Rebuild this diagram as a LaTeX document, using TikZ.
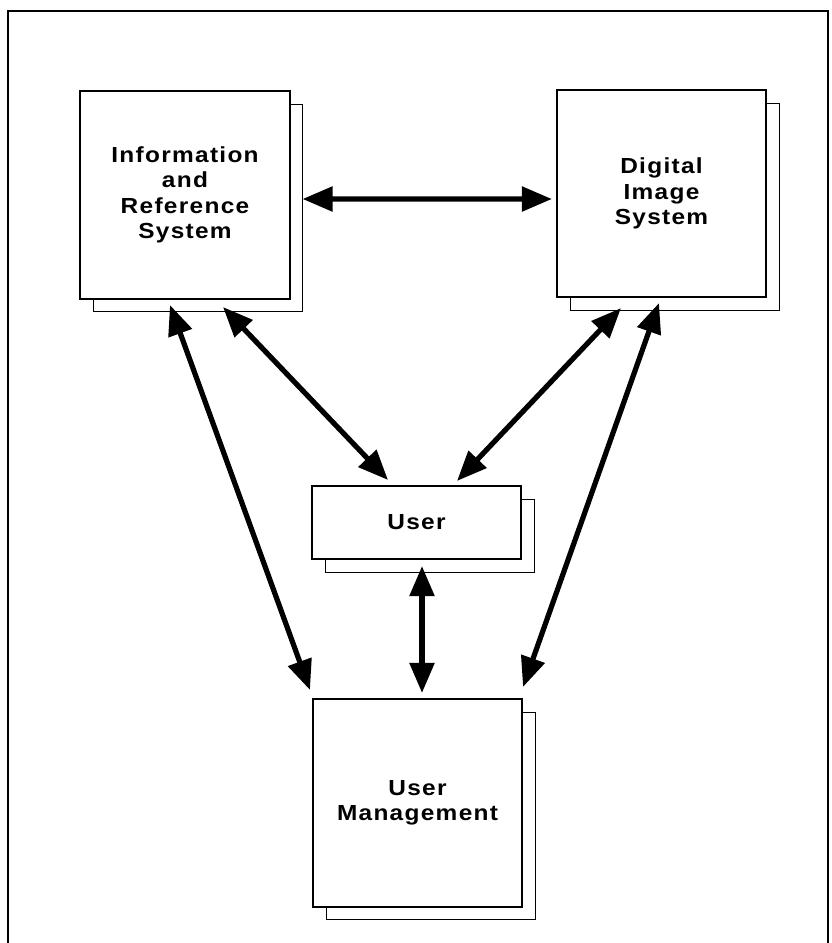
\documentclass[tikz,border=0pt]{standalone}
\usepackage{fontspec}
\newfontfamily\blockfont{Liberation Sans}[FakeStretch=1.12, LetterSpace=6]
\usetikzlibrary{arrows.meta, positioning, calc, shadows}

\begin{document}
\begin{tikzpicture}[
			x=0.025cm, y=-0.025cm,
			block/.style={rectangle, draw, line width=1.4pt, fill=white, align=center,
				inner sep=0pt, outer sep=0pt, minimum width=5.225cm, minimum height=5.175cm,
				font=\blockfont\bfseries\fontsize{15.5}{18}\selectfont,
				general shadow={shadow xshift=0.33cm, shadow yshift=-0.33cm,
					draw, line width=0.9pt, fill=white}},
			flat/.style={block, minimum height=1.825cm},
			link/.style={{Triangle[length=0.75cm, width=0.6cm]}-{Triangle[length=0.75cm, width=0.6cm]},
				line width=3.7pt}
		]
			\useasboundingbox (0,0) rectangle (831,943);
			% open frame, cut off at the bottom
			\draw[line width=1.4pt] (8,943) -- (8,11) -- (828,11) -- (828,943);

			\node[block] (irs) at (185,195) {Information\\and\\Reference\\System};
			\node[block] (dis) at (661.5,193.5) {Digital\\Image\\System};
			\node[flat] (usr) at (416.5,522.5) {User};
			\node[block] (mgmt) at (417.5,803) {User\\Management};

			\draw[link] ($(irs.east)+(13,4)$) -- ($(dis.west)+(-5,5.5)$);
			\draw[link] ($(irs.south)+(38,8.5)$) -- ($(usr.north)+(-28.5,-6)$);
			\draw[link] ($(dis.south)+(-40.5,11)$) -- ($(usr.north)+(40.5,-5)$);
			\draw[link] ($(irs.south)+(-15,6.5)$) -- ($(mgmt.north west)+(-3,-9.5)$);
			\draw[link] ($(dis.south)+(-2.5,6)$) -- ($(mgmt.north east)+(1,-12.5)$);
			\draw[link] ($(usr.south)+(5.5,7)$) -- ($(mgmt.north)+(4.5,-6.5)$);
		\end{tikzpicture}
\end{document}
